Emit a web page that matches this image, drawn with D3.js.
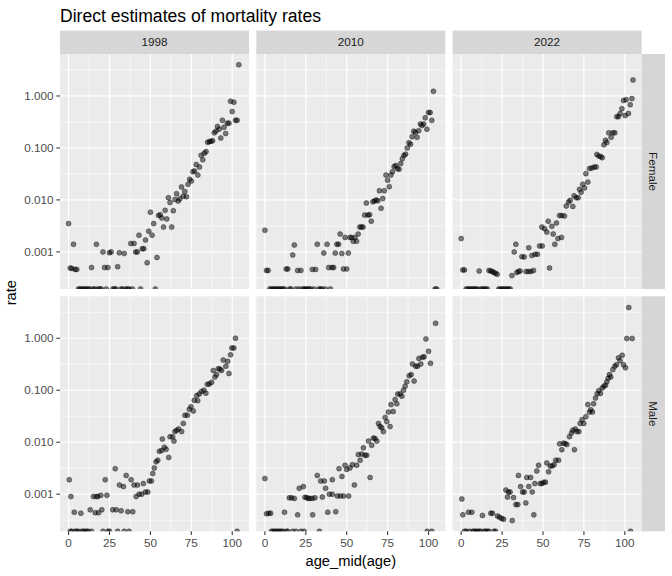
<!DOCTYPE html>
<html>
<head>
<meta charset="utf-8">
<script src="https://cdn.jsdelivr.net/npm/d3@7"></script>
<style>
body { margin: 0; background: #fff; }
svg { font-family: "Liberation Sans", Arial, sans-serif; }
.grid-major { stroke: #fff; stroke-width: 1.2; }
.grid-minor { stroke: #fff; stroke-width: 0.6; }
.tick-mark { stroke: #333; stroke-width: 1.07; }
.tick-label { fill: #4d4d4d; font-size: 11.7px; }
.strip-label { fill: #1a1a1a; font-size: 11.7px; }
.pt { fill: #000; fill-opacity: 0.5; stroke: #000; stroke-opacity: 0.5; stroke-width: 0.7; }
</style>
</head>
<body>
<svg id="chart" width="672" height="576"></svg>
<script>
var years = ['1998', '2010', '2022'];
var sexes = ['Female', 'Male'];
var xTicks = [0, 25, 50, 75, 100];
var yTicks = [0.001, 0.01, 0.1, 1];
var yTickLabels = ['0.001', '0.010', '0.100', '1.000'];

// [age_mid, rate], rate 0 = no deaths (drawn on the panel floor)
var female1998 = [[0,0.0035],[1,0.00049],[2,0.00048],[3,0.0014],[4,0.00046],[5,0.00046],[6,0],[7,0],[8,0],[9,0],[10,0],[11,0],[12,0],[13,0],[14,0.0005],[15,0],[16,0],[17,0.0014],[18,0],[19,0],[20,0],[21,0.001],[22,0.0005],[23,0],[24,0.0005],[25,0.00096],[26,0.001],[27,0],[28,0],[29,0],[30,0.00052],[31,0.00096],[32,0],[33,0],[34,0.00093],[35,0],[36,0],[37,0],[38,0.00145],[39,0],[40,0.00145],[41,0.001],[42,0.001],[43,0.0021],[44,0],[45,0.00115],[46,0.00115],[47,0.0017],[48,0.00062],[49,0.0025],[50,0.0058],[51,0.0021],[52,0.0035],[53,0],[54,0.00078],[55,0.005],[56,0.0052],[57,0.0045],[58,0.003],[59,0.0063],[60,0.0043],[61,0.011],[62,0.0089],[63,0.003],[64,0.0062],[65,0.0102],[66,0.0132],[67,0.0095],[68,0.0105],[69,0.0178],[70,0.0118],[71,0.0145],[72,0.0115],[73,0.02],[74,0.025],[75,0.023],[76,0.035],[77,0.036],[78,0.048],[79,0.03],[80,0.043],[81,0.072],[82,0.059],[83,0.079],[84,0.085],[85,0.128],[86,0.132],[87,0.135],[88,0.137],[89,0.195],[90,0.21],[91,0.26],[92,0.23],[93,0.155],[94,0.34],[95,0.25],[96,0.19],[97,0.3],[98,0.3],[99,0.79],[100,0.5],[101,0.76],[102,0.34],[103,0.34],[104,4.0]];
var female2010 = [[0,0.0026],[1,0.00044],[2,0.00044],[3,0],[4,0],[5,0],[6,0],[7,0],[8,0],[9,0],[10,0],[11,0],[12,0],[13,0.00047],[14,0.00047],[15,0],[16,0],[17,0.00087],[18,0.00135],[19,0],[20,0.00044],[21,0],[22,0.00044],[23,0],[24,0],[25,0],[26,0],[27,0],[28,0],[29,0.00046],[30,0],[31,0.00046],[32,0.0014],[33,0],[34,0],[35,0],[36,0.00095],[37,0],[38,0.0014],[39,0.0005],[40,0],[41,0.0005],[42,0.0005],[43,0.00095],[44,0.0014],[45,0.0014],[46,0.0022],[47,0.00093],[48,0.00047],[49,0.0019],[50,0.00047],[51,0.00095],[52,0.0019],[53,0.0019],[54,0.0016],[55,0.0019],[56,0.0016],[57,0.0022],[58,0.003],[59,0.003],[60,0.003],[61,0.0051],[62,0.0087],[63,0.0051],[64,0.0052],[65,0.0039],[66,0.0092],[67,0.0095],[68,0.01],[69,0.0096],[70,0.015],[71,0.0069],[72,0.0106],[73,0.015],[74,0.03],[75,0.024],[76,0.018],[77,0.03],[78,0.035],[79,0.044],[80,0.046],[81,0.04],[82,0.039],[83,0.05],[84,0.062],[85,0.072],[86,0.076],[87,0.1],[88,0.126],[89,0.118],[90,0.165],[91,0.21],[92,0.2],[93,0.16],[94,0.215],[95,0.29],[96,0.27],[97,0.29],[98,0.38],[99,0.23],[100,0.48],[101,0.48],[102,0.34],[103,1.23],[104,0],[105,0]];
var female2022 = [[0,0.0018],[1,0.00045],[2,0.00045],[3,0],[4,0],[5,0],[6,0],[7,0],[8,0],[9,0],[10,0],[11,0.00043],[12,0],[13,0],[14,0],[15,0],[16,0],[17,0.00044],[18,0.00043],[19,0.00042],[20,0.0004],[21,0.00039],[22,0.00037],[23,0],[24,0],[25,0],[26,0],[27,0],[28,0],[29,0],[30,0],[31,0.00035],[32.4,0.001],[33.4,0.0014],[34,0.0004],[35,0.00042],[36,0.00043],[37.1,0.00081],[38.5,0.0008],[39.7,0.00042],[41.1,0.00042],[41.3,0.0012],[42.6,0.00042],[43.2,0.00085],[44.2,0.00044],[45.2,0.0009],[46.6,0.0009],[47.9,0.0013],[49.5,0.0013],[49.3,0.003],[50.9,0.0028],[52.3,0.0024],[53.2,0.0039],[54,0.00049],[55.4,0.0031],[56.2,0.0022],[57.2,0.0014],[58.2,0.0036],[59.1,0.0018],[60.1,0.005],[61.3,0.0019],[61.5,0.005],[63.1,0.0049],[64.2,0.0076],[65.6,0.0091],[66.6,0.0098],[68.2,0.0075],[69,0.012],[70.3,0.011],[71.5,0.011],[72.3,0.016],[73.3,0.014],[74.3,0.02],[75.4,0.017],[76.2,0.032],[77.4,0.022],[78.4,0.04],[79.8,0.041],[81.3,0.043],[82.5,0.043],[82.9,0.075],[84.1,0.07],[85.3,0.068],[86.2,0.065],[87.2,0.115],[88.2,0.14],[89,0.127],[90.2,0.195],[91.6,0.16],[92.7,0.195],[93.9,0.195],[95.1,0.4],[96.1,0.4],[97.1,0.46],[98.2,0.57],[99.2,0.82],[100.2,0.42],[100.8,0.85],[102.2,0.46],[103.3,0.68],[104.3,0.89],[105,2.03]];
var male1998 = [[0.4,0.0019],[1,0],[1.4,0.0009],[2,0],[3.5,0.00045],[4,0],[5,0],[6,0],[7.5,0.00043],[8,0],[9,0],[10,0],[11,0],[12,0],[13.2,0.0005],[14,0],[15.2,0.0009],[16.3,0.00044],[16.9,0.0009],[17.9,0.0009],[18.3,0.00044],[19.7,0.00095],[20.3,0.0005],[21,0],[22.4,0.0019],[23.4,0.00095],[24,0],[25,0],[27,0.0005],[28.5,0.0031],[29.1,0.0005],[30,0],[31.1,0.0015],[32.1,0.00048],[33.5,0.0014],[34,0],[35.2,0.0023],[36.2,0.00046],[37,0],[38.2,0.0019],[39.2,0.00046],[40,0.0015],[41.3,0.0009],[42.1,0.0015],[43.1,0.001],[44.7,0.001],[45.7,0.0016],[47,0.0011],[48.4,0.0011],[49.4,0.0018],[50.6,0.0018],[51.4,0.0025],[52.4,0.0032],[53.5,0.0042],[54.5,0.0045],[55.5,0.0067],[56.9,0.0069],[57.3,0.0115],[58.5,0.008],[59.6,0.0073],[61.2,0.0051],[62,0.0127],[63.6,0.0127],[64.4,0.0105],[65,0.016],[66,0.017],[67.3,0.018],[69.1,0.016],[70.1,0.023],[71.1,0.033],[72.6,0.033],[73.8,0.043],[74.8,0.048],[76.2,0.04],[76.8,0.064],[78.3,0.079],[78.9,0.063],[79.9,0.085],[81.3,0.095],[82.7,0.1],[83.9,0.088],[84.8,0.13],[86,0.132],[87.4,0.142],[88.4,0.24],[89.4,0.18],[90.4,0.2],[91.5,0.26],[92.5,0.255],[93.5,0.24],[94.5,0.38],[96.1,0.29],[97.2,0.36],[98,0.21],[99,0.48],[99.8,0.65],[101,0.65],[102,1.0],[103,0]];
var male2010 = [[0,0.002],[1,0.00042],[2.4,0.00043],[3.5,0.00043],[4,0],[5,0],[6,0],[7,0],[8,0],[9,0],[10,0],[11,0],[12,0.00045],[13,0],[14,0],[14.9,0.00085],[16.3,0.00085],[17,0],[18,0.00083],[19,0],[20,0.0004],[21,0.0013],[22,0],[23.5,0.0014],[24,0],[24.5,0.00087],[25.5,0.00086],[26.5,0.00083],[27.6,0.00083],[29,0.00083],[29.2,0.0004],[30.6,0.00085],[32,0.0023],[33.3,0],[34.1,0.0018],[35.1,0.00088],[36.3,0.0018],[37.1,0.0013],[38.4,0.00045],[39.4,0.001],[41.2,0.001],[41.2,0.0019],[43.3,0.00046],[44.3,0.00092],[45.3,0.0031],[46.1,0.00092],[47.1,0.0022],[48,0.00092],[49,0.0036],[50,0.003],[51.2,0.00092],[52,0.0032],[53.5,0.0037],[54.7,0.0015],[56.1,0.0036],[57.1,0.0058],[58.2,0.0045],[59.2,0.0059],[60.2,0.0078],[61.2,0.0056],[62.2,0.0056],[63.3,0.0105],[64.3,0.0021],[65.3,0.0087],[66.3,0.012],[67.3,0.0118],[68.4,0.0105],[69.4,0.023],[70.4,0.02],[71.4,0.019],[72.4,0.016],[73.5,0.03],[74.5,0.025],[75.5,0.038],[76.5,0.02],[77.1,0.053],[78.4,0.039],[79.6,0.066],[80.6,0.055],[81.2,0.085],[82.7,0.085],[83.7,0.077],[84.7,0.1],[85.7,0.12],[86.7,0.145],[88.2,0.19],[89.4,0.2],[90.2,0.32],[91.2,0.15],[92.2,0.29],[93.3,0.29],[94.1,0.41],[95.3,0.32],[96.3,0.43],[97.3,0.44],[98.4,0.97],[99.2,0],[100,0.56],[101.2,0.33],[102,0],[104.3,1.94]];
var male2022 = [[0.4,0.00081],[1,0.0004],[2,0],[3,0],[4.5,0.00045],[5,0],[6.5,0.00045],[7,0],[8,0],[9,0],[10,0],[11,0],[12,0],[13,0.00039],[14,0],[15,0],[16,0],[17,0],[18.1,0.00043],[19.1,0.00043],[20,0],[21,0],[22.2,0.00038],[23.4,0.00036],[24.8,0.00034],[25.9,0.00033],[27.3,0.0012],[28.3,0.00088],[28.9,0.0011],[29.9,0.0011],[31.2,0.00031],[32,0.00086],[33.4,0.00063],[34.6,0.00063],[35,0.0023],[36.3,0.0014],[37.5,0.0011],[38.5,0.0011],[39.5,0.00068],[40.1,0.0021],[41.3,0.0014],[42.4,0.0021],[43.4,0.0011],[44.4,0.0004],[45,0.0016],[46.2,0.0028],[47.3,0.0036],[48.3,0.0016],[49.3,0.0016],[50.5,0.0017],[51.5,0.0017],[52.3,0.004],[53.4,0.0027],[54.4,0.0035],[55.6,0.0035],[56.8,0.0037],[57.8,0.0045],[59.5,0.0045],[60.1,0.0093],[61.5,0.0072],[62.5,0.0096],[63.5,0.0094],[64.6,0.009],[66.2,0.0128],[67.4,0.015],[68.2,0.017],[69.2,0.0072],[69.7,0.018],[70.7,0.016],[71.9,0.016],[72.7,0.023],[73.9,0.027],[74.9,0.023],[76.2,0.031],[77.4,0.053],[78.4,0.038],[79.2,0.042],[80.2,0.038],[80.9,0.055],[82.1,0.071],[83.1,0.086],[84.1,0.098],[85.1,0.087],[86.2,0.11],[87.2,0.12],[88.2,0.125],[89,0.145],[89.8,0.17],[90.6,0.2],[91.4,0.18],[92.7,0.25],[93.9,0.29],[94.9,0.31],[96.1,0.42],[97.1,0.37],[98.4,0.47],[99.2,0.31],[100.4,0.27],[101.2,0.99],[102.4,3.9],[103.5,0],[104.5,0.99]];

var panelData = {
    Female: { '1998': female1998, '2010': female2010, '2022': female2022 },
    Male: { '1998': male1998, '2010': male2010, '2022': male2022 }
};

var settings = {
    left: 60,
    top: 54,
    panelWidth: 189,
    panelHeight: 235,
    gap: 7.3,
    stripSize: 23.4,
    tickLength: 3.67
};

var svg = d3.select('#chart');

// shared scales, ggplot style 5% expansion
var all = [].concat(female1998, female2010, female2022, male1998, male2010, male2022);
var xExtent = d3.extent(all, function(d) { return d[0]; });
var xPad = (xExtent[1] - xExtent[0]) * 0.05;
var x = d3.scaleLinear()
    .domain([xExtent[0] - xPad, xExtent[1] + xPad])
    .range([0, settings.panelWidth]);

var logExtent = d3.extent(all.filter(function(d) { return d[1] > 0; }), function(d) { return Math.log10(d[1]); });
var yPad = (logExtent[1] - logExtent[0]) * 0.05;
var y = d3.scaleLog()
    .domain([Math.pow(10, logExtent[0] - yPad), Math.pow(10, logExtent[1] + yPad)])
    .range([settings.panelHeight, 0]);

var yMinor = yTicks.map(function(t) { return t * Math.sqrt(10); }).concat([yTicks[0] / Math.sqrt(10)]);
var xMinor = xTicks.slice(1).map(function(t) { return t - 12.5; });

function panelX(col) { return settings.left + col * (settings.panelWidth + settings.gap); }
function panelY(row) { return settings.top + row * (settings.panelHeight + settings.gap); }

function drawPanel(row, col) {
    var sex = sexes[row], year = years[col];
    var g = svg.append('g')
        .attr('transform', 'translate(' + panelX(col) + ',' + panelY(row) + ')');
    var clipId = 'clip' + row + col;
    svg.append('clipPath').attr('id', clipId).append('rect')
        .attr('width', settings.panelWidth).attr('height', settings.panelHeight);

    g.append('rect')
        .attr('width', settings.panelWidth)
        .attr('height', settings.panelHeight)
        .attr('fill', '#ebebeb');

    g.selectAll('.ym').data(yMinor.filter(function(t) { return y(t) > 0 && y(t) < settings.panelHeight; }))
        .enter().append('line').classed('grid-minor', true)
        .attr('x1', 0).attr('x2', settings.panelWidth)
        .attr('y1', y).attr('y2', y);
    g.selectAll('.xm').data(xMinor)
        .enter().append('line').classed('grid-minor', true)
        .attr('y1', 0).attr('y2', settings.panelHeight)
        .attr('x1', x).attr('x2', x);
    g.selectAll('.yM').data(yTicks)
        .enter().append('line').classed('grid-major', true)
        .attr('x1', 0).attr('x2', settings.panelWidth)
        .attr('y1', y).attr('y2', y);
    g.selectAll('.xM').data(xTicks)
        .enter().append('line').classed('grid-major', true)
        .attr('y1', 0).attr('y2', settings.panelHeight)
        .attr('x1', x).attr('x2', x);

    g.append('g').attr('clip-path', 'url(#' + clipId + ')')
        .selectAll('circle').data(panelData[sex][year])
        .enter().append('circle').classed('pt', true)
        .attr('cx', function(d) { return x(d[0]); })
        .attr('cy', function(d) { return d[1] > 0 ? y(d[1]) : settings.panelHeight; })
        .attr('r', 2.5);

    // strips
    if (row === 0) {
        svg.append('rect')
            .attr('x', panelX(col)).attr('y', settings.top - settings.stripSize)
            .attr('width', settings.panelWidth).attr('height', settings.stripSize)
            .attr('fill', '#d6d6d6');
        svg.append('text').classed('strip-label', true)
            .attr('x', panelX(col) + settings.panelWidth / 2)
            .attr('y', settings.top - settings.stripSize / 2)
            .attr('dy', '0.35em')
            .attr('text-anchor', 'middle')
            .text(year);
    }
    if (col === years.length - 1) {
        var sx = panelX(col) + settings.panelWidth;
        svg.append('rect')
            .attr('x', sx).attr('y', panelY(row))
            .attr('width', settings.stripSize).attr('height', settings.panelHeight)
            .attr('fill', '#d6d6d6');
        svg.append('text').classed('strip-label', true)
            .attr('transform', 'translate(' + (sx + settings.stripSize / 2) + ',' + (panelY(row) + settings.panelHeight / 2) + ') rotate(90)')
            .attr('dy', '0.35em')
            .attr('text-anchor', 'middle')
            .text(sex);
    }

    // axes
    if (col === 0) {
        var ya = g.append('g');
        ya.selectAll('line').data(yTicks).enter().append('line').classed('tick-mark', true)
            .attr('x1', -settings.tickLength).attr('x2', 0)
            .attr('y1', y).attr('y2', y);
        ya.selectAll('text').data(yTicks).enter().append('text').classed('tick-label', true)
            .attr('x', -settings.tickLength - 2.9)
            .attr('y', y)
            .attr('dy', '0.35em')
            .attr('text-anchor', 'end')
            .text(function(d, i) { return yTickLabels[i]; });
    }
    if (row === sexes.length - 1) {
        var xa = g.append('g').attr('transform', 'translate(0,' + settings.panelHeight + ')');
        xa.selectAll('line').data(xTicks).enter().append('line').classed('tick-mark', true)
            .attr('x1', x).attr('x2', x)
            .attr('y1', 0).attr('y2', settings.tickLength);
        xa.selectAll('text').data(xTicks).enter().append('text').classed('tick-label', true)
            .attr('x', x)
            .attr('y', settings.tickLength + 2.9)
            .attr('dy', '0.8em')
            .attr('text-anchor', 'middle')
            .text(function(d) { return d; });
    }
}

sexes.forEach(function(s, row) {
    years.forEach(function(yr, col) { drawPanel(row, col); });
});

var panelsRight = panelX(years.length - 1) + settings.panelWidth;
var panelsBottom = panelY(sexes.length - 1) + settings.panelHeight;

svg.append('text')
    .attr('x', settings.left)
    .attr('y', 22)
    .attr('fill', '#000')
    .style('font-size', '17.6px')
    .text('Direct estimates of mortality rates');

svg.append('text')
    .attr('x', (settings.left + panelsRight) / 2)
    .attr('y', panelsBottom + 35)
    .attr('text-anchor', 'middle')
    .attr('fill', '#000')
    .style('font-size', '14.7px')
    .text('age_mid(age)');

svg.append('text')
    .attr('transform', 'translate(16,' + ((settings.top + panelsBottom) / 2) + ') rotate(-90)')
    .attr('text-anchor', 'middle')
    .attr('fill', '#000')
    .style('font-size', '14.7px')
    .text('rate');
</script>
</body>
</html>
